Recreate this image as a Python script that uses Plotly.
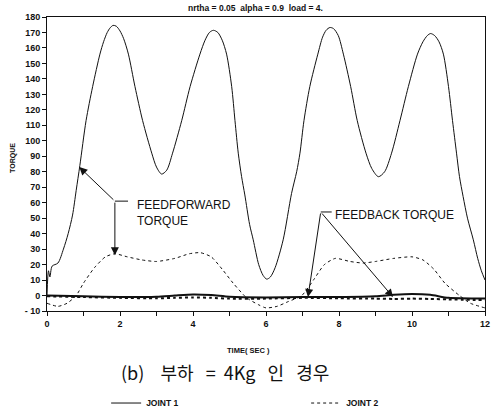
import plotly.graph_objects as go

# ---- data ----
t_j1 = [0, 0.04, 0.08, 0.14, 0.3, 0.45, 0.58, 0.7, 0.8, 0.9, 1.07, 1.25, 1.45, 1.55, 1.65,
        1.73, 1.81, 1.9, 2.0, 2.1, 2.23, 2.41, 2.62, 2.87, 3.0, 3.14, 3.28, 3.44, 3.69, 3.92,
        4.19, 4.33, 4.45, 4.56, 4.68, 4.8, 4.92, 5.06, 5.15, 5.24, 5.33, 5.42, 5.55, 5.65, 5.8,
        5.92, 6.02, 6.12, 6.25, 6.47, 6.7, 6.84, 6.93, 7.04, 7.2, 7.42, 7.55, 7.65, 7.75, 7.85,
        7.98, 8.12, 8.32, 8.5, 8.74, 8.9, 9.08, 9.25, 9.44, 9.67, 9.9, 10.15, 10.3, 10.42, 10.51,
        10.62, 10.74, 10.86, 11.0, 11.11, 11.22, 11.3, 11.4, 11.52, 11.68, 11.8, 11.9, 12.0]
ff_j1 = [0, 16, 12, 19, 21, 30, 40, 52, 68, 84, 113, 135, 156, 164, 170,
         173, 174.6, 174, 171, 166, 156, 135, 113, 92, 83, 78.5, 81, 92, 113, 135,
         156, 165, 170, 171.4, 170, 165, 156, 135, 113, 92, 77, 65, 46, 36, 20,
         13, 10.6, 12, 18, 36, 66, 80, 92, 113, 135, 156, 167, 171.5, 173.2, 172.5,
         168, 156, 135, 113, 92, 82, 76.8, 80, 92, 113, 135, 156, 164, 168, 169.3,
         168, 164, 156, 135, 113, 92, 77, 64, 50, 36, 24, 16, 10]

t_j2 = [0, 0.3, 0.55, 0.8, 1.0, 1.3, 1.6, 1.86, 2.2, 2.6, 3.0, 3.5, 3.9, 4.2, 4.5, 4.8, 5.1,
        5.47, 5.8, 6.0, 6.3, 6.6, 6.98, 7.3, 7.6, 7.9, 8.3, 8.66, 9.0, 9.5, 10.0, 10.3, 10.6,
        10.9, 11.3, 11.6, 12.0]
ff_j2 = [-5, -7, -5, 0, 8, 18, 25, 27, 25, 23, 22, 24, 27, 27.7, 25, 17, 8,
         -1.5, -6, -8, -7, -4, 0, 10, 20, 24, 22, 21, 22, 24, 25, 23, 17,
         8, 0, -5, -8]

t_fb = [0, 1, 2, 3, 3.5, 4, 4.5, 5, 6, 7, 8, 9, 9.5, 10, 10.5, 11, 12]
fb_j1 = [0, -0.5, -1, -0.8, 0, 0.7, 0.3, -0.8, -1.2, -1, -1, -0.5, 0.5, 1.0, 0.5, -1.5, -2]
fb_j2 = [-0.5, -1, -1.5, -1.8, -1.5, -1.2, -1.5, -2, -2, -1.5, -1.8, -2, -2.2, -2, -2.2, -2.5, -3]

x_ticks = list(range(0, 13))
x_ticklabels = [str(v) if v % 2 == 0 else "" for v in x_ticks]
y_ticks = list(range(-10, 181, 10))
y_ticklabels = [("- 10" if v == -10 else str(v)) for v in y_ticks]

series_names = ["JOINT 1", "JOINT 2"]
title_text = "nrtha = 0.05  alpha = 0.9  load = 4."
NB = "\u00a0"
caption_text = ("(b)" + NB * 4 + "부하" + NB * 3 + "=" + NB * 2 + "4Kg" + NB * 3 + "인"
                + NB * 3 + "경우")

FONT = "Liberation Sans, Arial, sans-serif"
INK = "#111111"

fig = go.Figure()
fig.add_trace(go.Scatter(x=t_j1, y=ff_j1, mode="lines", name=series_names[0],
                         line=dict(color=INK, width=1, shape="spline", smoothing=0.8)))
fig.add_trace(go.Scatter(x=t_j2, y=ff_j2, mode="lines", name=series_names[1],
                         line=dict(color=INK, width=1, dash="dot", shape="spline", smoothing=0.6)))
fig.add_trace(go.Scatter(x=t_fb, y=fb_j1, mode="lines", showlegend=False,
                         line=dict(color=INK, width=2, shape="spline", smoothing=0.6)))
fig.add_trace(go.Scatter(x=t_fb, y=fb_j2, mode="lines", showlegend=False,
                         line=dict(color=INK, width=2, dash="dot", shape="spline", smoothing=0.6)))

# arrows
arrows = [
    (0.885, 83, 1.86, 61),
    (1.86, 26, 1.86, 61),
    (7.15, -1, 7.5, 54),
    (9.48, -1, 7.5, 54),
]
for x, y, ax, ay in arrows:
    fig.add_annotation(x=x, y=y, ax=ax, ay=ay, xref="x", yref="y", axref="x", ayref="y",
                       text="", showarrow=True, arrowhead=2, arrowsize=1.6, arrowwidth=1,
                       arrowcolor=INK)
# bracket ticks
fig.add_shape(type="line", x0=1.86, x1=2.22, y0=61, y1=61, xref="x", yref="y",
              line=dict(color=INK, width=1))
fig.add_shape(type="line", x0=7.5, x1=7.8, y0=54, y1=54, xref="x", yref="y",
              line=dict(color=INK, width=1))

fig.add_annotation(x=2.41, y=64, xref="x", yref="y", text="FEEDFORWARD<br>TORQUE",
                   showarrow=False, xanchor="left", yanchor="top", align="left",
                   font=dict(family=FONT, size=12, color=INK))
fig.add_annotation(x=7.84, y=52, xref="x", yref="y", text="FEEDBACK TORQUE",
                   showarrow=False, xanchor="left", yanchor="middle",
                   font=dict(family=FONT, size=12, color=INK))

# titles
fig.add_annotation(x=0.475, y=1.03, xref="paper", yref="paper", text=title_text,
                   showarrow=False, xanchor="center", yanchor="middle",
                   font=dict(family=FONT, size=8.5, color=INK, weight="bold"))
fig.add_annotation(x=-0.078, y=0.52, xref="paper", yref="paper", text="TORQUE",
                   textangle=-90, showarrow=False, xanchor="center", yanchor="middle",
                   font=dict(family=FONT, size=7, color=INK, weight="bold"))
fig.add_annotation(x=0.461, y=-0.133, xref="paper", yref="paper", text="TIME( SEC )",
                   showarrow=False, xanchor="center", yanchor="middle",
                   font=dict(family=FONT, size=7.5, color=INK, weight="bold"))
fig.add_annotation(x=0.4075, y=-0.207, xref="paper", yref="paper", text=caption_text,
                   showarrow=False, xanchor="center", yanchor="middle",
                   font=dict(family="Noto Sans CJK KR", size=18, color=INK))

fig.update_xaxes(range=[0, 12], tickmode="array", tickvals=x_ticks, ticktext=x_ticklabels,
                 showgrid=False, zeroline=False, showline=True, linecolor=INK, linewidth=1,
                 mirror=True, ticks="outside", ticklen=4, tickcolor=INK,
                 tickfont=dict(family=FONT, size=9, color=INK, weight="bold"))
fig.update_yaxes(range=[-10, 180], tickmode="array", tickvals=y_ticks, ticktext=y_ticklabels,
                 showgrid=False, zeroline=False, showline=True, linecolor=INK, linewidth=1,
                 mirror=True, ticks="outside", ticklen=4, tickcolor=INK,
                 tickfont=dict(family=FONT, size=9, color=INK, weight="bold"))

fig.update_layout(
    width=492, height=411,
    margin=dict(l=47, r=7, t=17, b=100, autoexpand=False),
    paper_bgcolor="white", plot_bgcolor="white",
    showlegend=True,
    legend=dict(orientation="h", x=0.135, y=-0.313, xanchor="left", yanchor="middle",
                entrywidth=155, entrywidthmode="pixels",
                font=dict(family=FONT, size=8.5, color=INK, weight="bold"),
                bgcolor="rgba(0,0,0,0)"),
)

fig.write_html("out.html")
